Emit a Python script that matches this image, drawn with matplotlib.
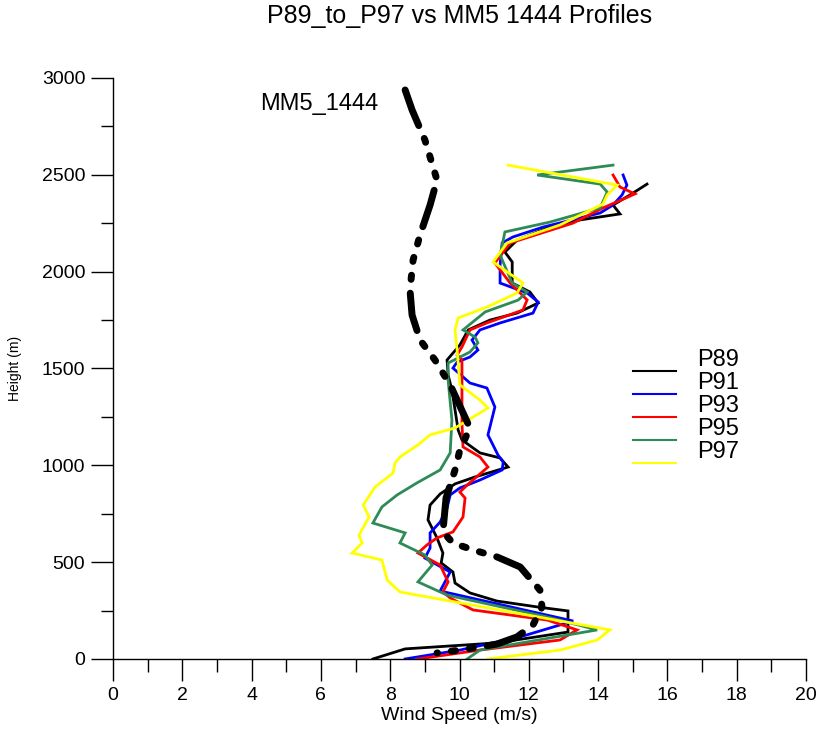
import matplotlib.pyplot as plt
from matplotlib.ticker import MultipleLocator

plt.rcParams['font.family'] = ['Liberation Sans', 'DejaVu Sans']

# MM5 model profile (wind speed m/s, height m)
mm5_speed = [8.43, 8.63, 9.0, 9.35, 9.15, 8.86, 8.66, 8.57, 8.63, 8.86, 9.29, 9.73, 10.3,
             10.01, 9.87, 9.61, 9.52, 9.81, 10.39, 11.08, 11.75, 12.32, 12.38, 12.12,
             11.66, 11.08, 10.01, 9.35]
mm5_height = [2938, 2835, 2680, 2473, 2344, 2189, 2060, 1905, 1776, 1647, 1544, 1415, 1193,
              1079, 976, 831, 656, 599, 563, 527, 475, 356, 268, 176, 114, 77, 46, 31]

# observed profiles
p89_speed = [7.5, 8.43, 11.08, 13.13, 13.13, 12.27, 11.08, 10.3, 9.87, 9.81, 9.47, 9.52, 9.35,
             9.09, 9.15, 9.44, 9.87, 10.45, 11.4, 11.17, 10.59, 10.07, 9.96, 9.87, 9.78, 9.67,
             9.64, 10.01, 10.25, 10.88, 11.66, 12.27, 12.03, 11.52, 11.52, 11.31, 11.66, 12.61,
             13.48, 14.63, 14.43, 14.92, 15.41]
p89_height = [0, 52, 83, 139, 248, 268, 299, 341, 392, 449, 496, 547, 625, 718, 795, 852, 904,
              940, 991, 1038, 1064, 1131, 1182, 1286, 1389, 1466, 1544, 1621, 1699, 1750, 1786,
              1838, 1895, 1941, 2050, 2101, 2163, 2230, 2267, 2298, 2344, 2396, 2452]

p91_speed = [8.43, 10.01, 11.75, 13.28, 9.44, 9.73, 9.0, 9.15, 9.15, 9.44, 9.64, 9.73, 10.01,
             10.59, 11.23, 11.26, 11.11, 10.82, 11.02, 10.79, 10.3, 9.81, 9.93, 10.3, 10.53,
             10.36, 10.59, 11.17, 12.12, 12.27, 11.95, 11.17, 11.17, 11.23, 11.54, 12.41, 14.06,
             14.43, 14.69, 14.83, 14.72]
p91_height = [0, 46, 114, 196, 351, 449, 521, 573, 651, 707, 780, 847, 883, 924, 976, 1017, 1053,
              1157, 1301, 1399, 1425, 1502, 1533, 1559, 1595, 1647, 1699, 1735, 1786, 1843, 1890,
              1941, 2034, 2148, 2179, 2230, 2303, 2344, 2396, 2447, 2499]

p93_speed = [8.8, 10.59, 12.9, 13.39, 12.53, 10.39, 9.73, 9.52, 9.67, 9.44, 8.8, 9.06, 9.35,
             9.81, 10.1, 10.16, 10.01, 10.22, 10.82, 10.59, 10.1, 10.07, 10.07, 10.07, 9.93,
             10.07, 10.3, 10.79, 11.83, 11.95, 11.46, 11.02, 11.46, 13.28, 14.14, 15.06, 14.63,
             14.43]
p93_height = [0, 46, 98, 150, 201, 253, 315, 346, 398, 485, 547, 589, 625, 656, 733, 831, 862,
              898, 991, 1043, 1095, 1218, 1425, 1544, 1570, 1611, 1699, 1735, 1802, 1854, 1941,
              2045, 2148, 2251, 2329, 2401, 2437, 2499]

p95_speed = [10.22, 10.59, 11.95, 13.97, 12.53, 9.64, 8.8, 9.21, 9.0, 8.28, 8.43, 7.5, 7.76,
             8.2, 8.77, 9.44, 9.73, 9.78, 9.67, 9.67, 10.3, 10.53, 10.45, 10.1, 10.74, 11.69,
             11.95, 11.52, 11.17, 11.31, 12.61, 14.06, 14.26, 14.06, 12.24, 14.43]
p95_height = [0, 46, 88, 150, 217, 330, 398, 485, 537, 599, 651, 702, 785, 847, 909, 976, 1064,
              1234, 1440, 1528, 1585, 1632, 1662, 1699, 1792, 1853, 1895, 1941, 2086, 2205, 2256,
              2329, 2411, 2452, 2499, 2550]

p97_speed = [10.82, 12.9, 13.97, 14.34, 8.28, 7.91, 7.76, 6.9, 7.19, 7.1, 7.39, 7.22, 7.56,
             8.08, 8.14, 8.28, 8.8, 9.15, 9.87, 10.25, 10.82, 10.59, 10.01, 9.96, 9.93, 9.87,
             9.96, 10.79, 11.66, 11.83, 10.97, 11.37, 12.9, 14.14, 14.26, 14.55, 11.4]
p97_height = [0, 46, 98, 150, 346, 408, 511, 547, 599, 640, 733, 795, 888, 960, 1012, 1043, 1105,
              1157, 1193, 1234, 1296, 1337, 1415, 1528, 1595, 1699, 1761, 1817, 1890, 1941, 2050,
              2148, 2241, 2349, 2396, 2447, 2550]

names = ['P89', 'P91', 'P93', 'P95', 'P97']
colors = ['black', '#0000ff', '#ff0000', '#2e8b57', '#ffff00']
speeds = [p89_speed, p91_speed, p93_speed, p95_speed, p97_speed]
heights = [p89_height, p91_height, p93_height, p95_height, p97_height]

fig = plt.figure(figsize=(8.22, 7.30), dpi=100)
ax = fig.add_axes([0.1375, 0.0973, 0.8431, 0.7959])

for s, h, c in zip(speeds, heights, colors):
    ax.plot(s, h, color=c, lw=2.0, solid_joinstyle='miter')

ax.plot(mm5_speed, mm5_height, color='black', lw=5,
        linestyle=(0, (5.5, 2.0, 0.6, 2.0, 0.6, 2.0, 0.6, 2.0)),
        dash_capstyle='round', solid_capstyle='round')
ax.text(4.24, 2866, 'MM5_1444', fontsize=17, va='center', ha='left')

# legend drawn Surfer-style: sample line sits just below its label
for i, (name, c) in enumerate(zip(names, colors)):
    ly = 0.4957 - i * 0.0396
    ax.plot([0.750, 0.812], [ly, ly], color=c, lw=1.5, transform=ax.transAxes, clip_on=False)
    ax.text(0.843, ly + 0.019, name, fontsize=17, va='center', ha='left', transform=ax.transAxes)

ax.set_xlim(0, 20)
ax.set_ylim(0, 3000)
ax.xaxis.set_major_locator(MultipleLocator(2))
ax.xaxis.set_minor_locator(MultipleLocator(1))
ax.yaxis.set_major_locator(MultipleLocator(500))
ax.yaxis.set_minor_locator(MultipleLocator(250))
ax.tick_params(which='major', direction='out', length=16, width=1, labelsize=14, pad=4)
ax.tick_params(which='minor', direction='out', length=9, width=1)
for side in ['top', 'right']:
    ax.spines[side].set_visible(False)
ax.spines['left'].set_linewidth(1)
ax.spines['bottom'].set_linewidth(1)

ax.set_xlabel('Wind Speed (m/s)', fontsize=14, labelpad=2)
ax.set_ylabel('Height (m)', fontsize=10, labelpad=14)
fig.suptitle('P89_to_P97 vs MM5 1444 Profiles', fontsize=18, y=0.995, x=0.559)

fig.savefig('out.png', dpi=100)
